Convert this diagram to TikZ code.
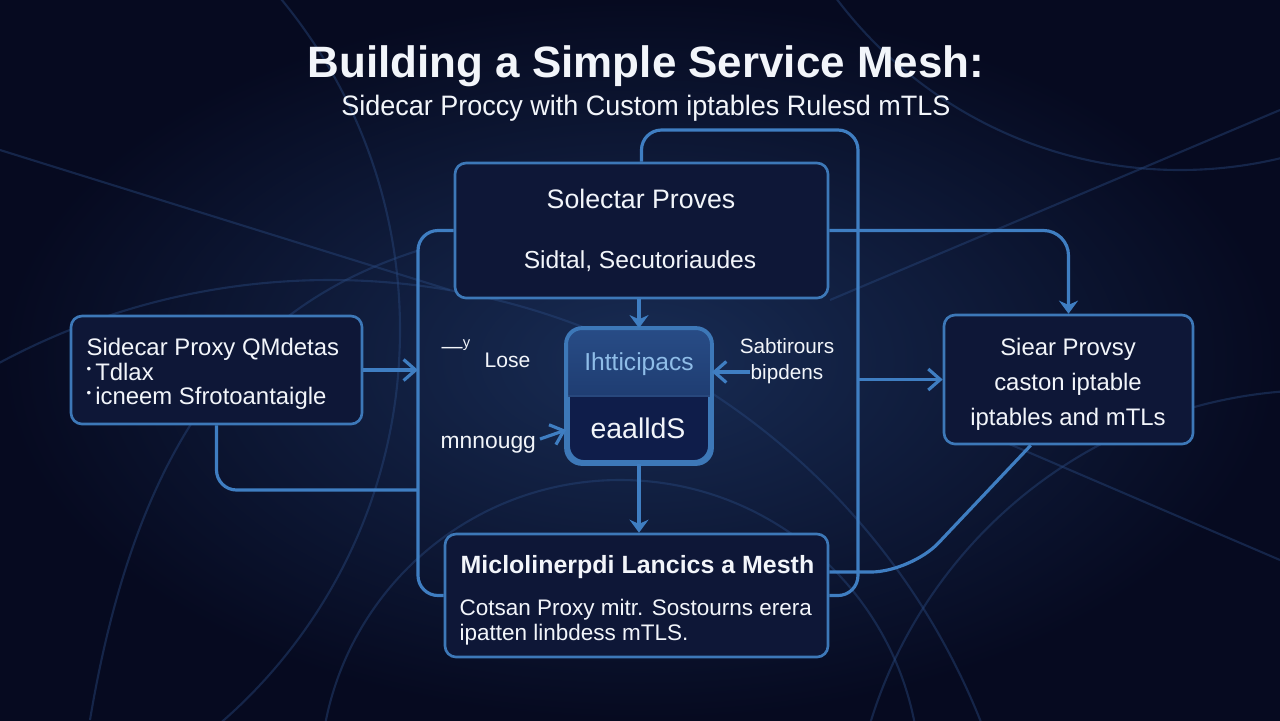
\documentclass[tikz,border=0pt]{standalone}
\usepackage{fontspec}
\setmainfont{Liberation Sans}
\newfontfamily\narrowfont[FakeStretch=0.96]{Liberation Sans}
\usetikzlibrary{arrows.meta,calc}

\definecolor{bgdeep}{HTML}{060A20}
\definecolor{bgmid}{HTML}{182C54}
\definecolor{boxfill}{HTML}{0E1737}
\definecolor{edgeblue}{HTML}{3D78B8}
\definecolor{wireblue}{HTML}{3F7EC2}
\definecolor{faintblue}{HTML}{28477C}
\definecolor{inkwhite}{HTML}{F2F5FA}
\definecolor{paleblue}{HTML}{8FBDE8}
\definecolor{chiptop}{HTML}{284C86}
\definecolor{chipmid}{HTML}{1F3D72}
\definecolor{chipbot}{HTML}{0F1D4A}

\begin{document}
\begin{tikzpicture}[x=0.1mm, y=-0.1mm, >={Straight Barb[length=1.2mm,width=2.1mm]},
    box/.style={draw=edgeblue, line width=0.75pt, fill=boxfill, rounded corners=1.1mm, inner sep=0pt},
    link/.style={draw=wireblue, line width=0.9pt},
    faint/.style={draw=faintblue, line width=0.6pt, opacity=0.45},
    txt/.style={text=inkwhite, inner sep=0pt},
    fs/.style={font=\fontsize{#1}{#1}\selectfont}]
    \useasboundingbox (0,0) rectangle (1280,720);
    % backdrop
    \shade[inner color=bgmid, outer color=bgdeep] (0,0) rectangle (1280,720);
    \begin{scope}
        \clip (0,0) rectangle (1280,720);
        \draw[faint] (330,980) circle (700);
        \draw[faint] (-120,330) circle (520);
        \draw[faint] (1320,860) circle (470);
        \draw[faint] (1180,-260) circle (430);
        \draw[faint] (620,780) circle (300);
        \draw[faint] (0,150) -- (450,290);
        \draw[faint] (830,300) -- (1280,110);
        \draw[faint] (1000,440) -- (1280,560);
        \draw[faint] (90,720) .. controls (140,420) and (260,300) .. (420,250);
    \end{scope}

    % titles
    \node[txt, font=\bfseries\fontsize{12.5}{14}\selectfont, anchor=base] (title) at (646,77) {Building a Simple Service Mesh:};
    \node[txt, font=\narrowfont\fontsize{8}{10}\selectfont, anchor=base] (subtitle) at (646,115) {Sidecar Proccy with Custom iptables Rulesd mTLS};

    % boxes
    \node[box, minimum width=37.3mm, minimum height=13.5mm] (proxies) at (641.5,230.5) {};
    \node[txt, fs=7.6, anchor=base] (proxieshead) at (641,208) {Solectar Proves};
    \node[txt, fs=7, anchor=base] (proxiessub) at (640,268) {Sidtal, Secutoriaudes};

    \node[box, minimum width=29.1mm, minimum height=10.8mm] (sidecar) at (216.5,370) {};
    \node[txt, font=\fontsize{6.8}{6.9}\selectfont, align=left, anchor=west] (sidecartext) at (86,374)
        {Sidecar Proxy QMdetas\\\raisebox{0.3em}{\scalebox{0.55}{•}}\,Tdlax\\\raisebox{0.3em}{\scalebox{0.55}{•}}\,icneem Sfrotoantaigle};

    \node[box, minimum width=24.9mm, minimum height=12.9mm] (mtls) at (1068.5,379.5) {};
    \node[txt, font=\fontsize{6.8}{10}\selectfont, align=center] (mtlstext) at (1068,384)
        {Siear Provsy\\caston iptable\\iptables and mTLs};

    \node[box, minimum width=38.3mm, minimum height=12.3mm] (mesh) at (636.5,595.5) {};
    \node[txt, font=\bfseries\fontsize{7.1}{8}\selectfont, anchor=base west] (meshhead) at (460,573) {Miclolinerpdi Lancics a Mesth};
    \node[txt, font=\fontsize{6.4}{7.1}\selectfont, align=left, anchor=west] (meshtext) at (459,622)
        {Cotsan Proxy mitr. Sostourns erera\\ipatten linbdess mTLS.};

    % chip in the middle
    \node[box, fill=chipbot, line width=1.1pt, rounded corners=1.6mm, minimum width=14.2mm, minimum height=13.2mm] (chip) at (639,396) {};
    \begin{scope}
        \clip[rounded corners=1.6mm] (chip.south west) rectangle (chip.north east);
        \shade[top color=chiptop, bottom color=chipmid] (chip.north west) rectangle (chip.east);
    \end{scope}
    \draw[faintblue, line width=0.5pt] (chip.west) -- (chip.east);
    \draw[edgeblue, line width=1.1pt, rounded corners=1.6mm] (chip.south west) rectangle (chip.north east);
    \node[txt, text=paleblue, fs=7, anchor=base] (chiptop) at (639,370) {Ihtticipacs};
    \node[txt, fs=8.1, anchor=base] (chipbot) at (638,438) {eaalldS};

    % side labels
    \node[txt, fs=6, anchor=base west] (dash) at (441,353) {—\raisebox{0.25em}{\scalebox{0.7}{y}}};
    \node[txt, fs=6, anchor=base west] (lose) at (484,367) {Lose};
    \node[txt, font=\fontsize{5.9}{7.4}\selectfont, align=center] (sab) at (787,361) {Sabtirours\\bipdens};
    \node[txt, fs=6.5, anchor=base west] (mnn) at (440,448) {mnnougg};

    % connectors
    \coordinate (bus) at (418,0);
    \coordinate (rbus) at (858,0);
    \coordinate (looptop) at (0,130);
    \coordinate (lowrun) at (0,490);
    \coordinate (tap) at (911,572);
    \coordinate (sabtail) at (750,372);
    \coordinate (mntail) at (540,439);
    \coordinate (dfoot) at ($(mtls.south west)!0.35!(mtls.south east)$);
    \coordinate (chipin) at ($(chip.north west)!0.75!(chip.south west)$);

    \draw[link, rounded corners=2mm] (proxies.west) -| (bus |- mesh.west) -- (mesh.west);
    \draw[link, rounded corners=2mm] (sidecar.south) |- (bus |- lowrun);
    \draw[link, ->] (sidecar.east) -- (bus |- sidecar.east);
    \draw[link, rounded corners=2mm] (proxies.north) |- (rbus |- looptop) |- (mesh.east);
    \draw[link, -{Stealth[length=1.3mm,width=1.9mm]}, rounded corners=2.5mm] (proxies.east) -| (mtls.north);
    \draw[link, ->] (rbus |- mtls.west) -- (mtls.west);
    \draw[link, rounded corners=4mm] (mesh.east |- tap) -- (tap) -- (dfoot);
    \draw[link, -{Stealth[length=1.3mm,width=1.9mm]}] (chip.north |- proxies.south) -- (chip.north);
    \draw[link, -{Stealth[length=1.3mm,width=1.9mm]}] (chip.south) -- (chip.south |- mesh.north);
    \draw[link, ->] (sabtail) -- (chip.east |- sabtail);
    \draw[link, ->] (mntail) -- (chipin);
\end{tikzpicture}
\end{document}
